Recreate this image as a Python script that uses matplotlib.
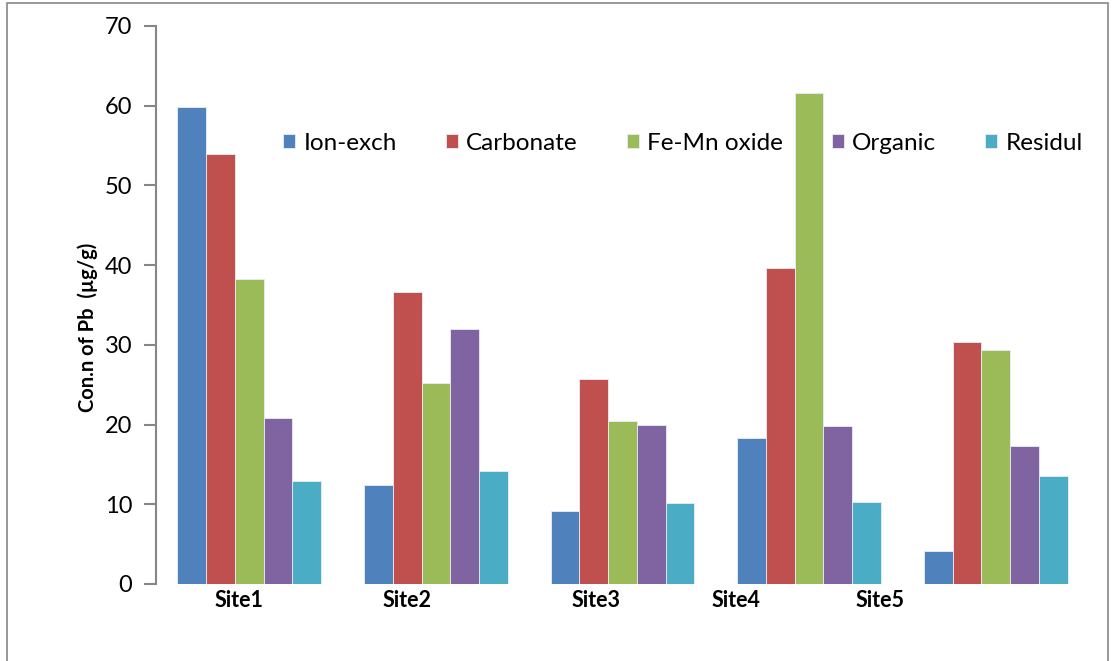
import matplotlib
matplotlib.use("Agg")
import matplotlib.pyplot as plt
import numpy as np
from matplotlib.patches import Rectangle

sites = ["Site1", "Site2", "Site3", "Site4", "Site5"]
series = ["Ion-exch", "Carbonate", "Fe-Mn oxide", "Organic", "Residul"]
ion_exch = [59.8, 12.4, 9.1, 18.3, 4.1]
carbonate = [54.0, 36.6, 25.7, 39.6, 30.3]
fe_mn_oxide = [38.2, 25.2, 20.5, 61.6, 29.3]
organic = [20.8, 32.0, 20.0, 19.8, 17.3]
residul = [12.9, 14.2, 10.2, 10.3, 13.5]
values = [ion_exch, carbonate, fe_mn_oxide, organic, residul]
colors = ["#4F81BD", "#C0504D", "#9BBB59", "#8064A2", "#4BACC6"]

# label positions (as drawn in the original, offset from group centres)
label_pos = [-0.057, 0.845, 1.86, 2.61, 3.38]

plt.rcParams['font.family'] = ['Lato', 'DejaVu Sans']

fig = plt.figure(figsize=(11.12, 6.61), dpi=100)
ax = fig.add_axes([156/1112, 1-584/661, (1089-156)/1112, (584-26)/661])

x = np.arange(len(sites))
group_w = 0.77
bw = group_w / len(series)
for i, (name, vals, c) in enumerate(zip(series, values, colors)):
    ax.bar(x - group_w/2 + bw*(i+0.5), vals, width=bw, color=c,
           edgecolor="#e8eef5", linewidth=0.6, label=name)

ax.set_xlim(-0.5, 4.5)
ax.set_ylim(0, 70)
ax.set_yticks(range(0, 71, 10))
ax.tick_params(axis='y', labelsize=17, length=9, width=1.5, color="#868686", pad=8)
ax.set_xticks(label_pos)
ax.set_xticklabels(sites, fontsize=15.5, fontweight='bold')
ax.tick_params(axis='x', length=0, pad=4)
for s in ["top", "right", "bottom"]:
    ax.spines[s].set_visible(False)
ax.spines["left"].set_color("#868686")
ax.spines["left"].set_linewidth(1.5)

ax.set_ylabel("Con.n of Pb  (µg/g)", fontsize=14.5, fontweight='bold')
ax.yaxis.set_label_coords((98-156)/933, (584-327)/558)

leg = ax.legend(loc='center left', bbox_to_anchor=((283-156)/933, (584-143)/558), ncol=5,
                frameon=False, fontsize=17.5, handlelength=0.5, handleheight=0.5,
                handletextpad=0.35, columnspacing=2.0, borderaxespad=0, borderpad=0)

fig.patches.append(Rectangle((7/1112, -0.1), (1108-7)/1112, 1.1 - 3/661,
                             transform=fig.transFigure, fill=False,
                             edgecolor="#868686", linewidth=1.2))

fig.savefig("out.png", dpi=100)
